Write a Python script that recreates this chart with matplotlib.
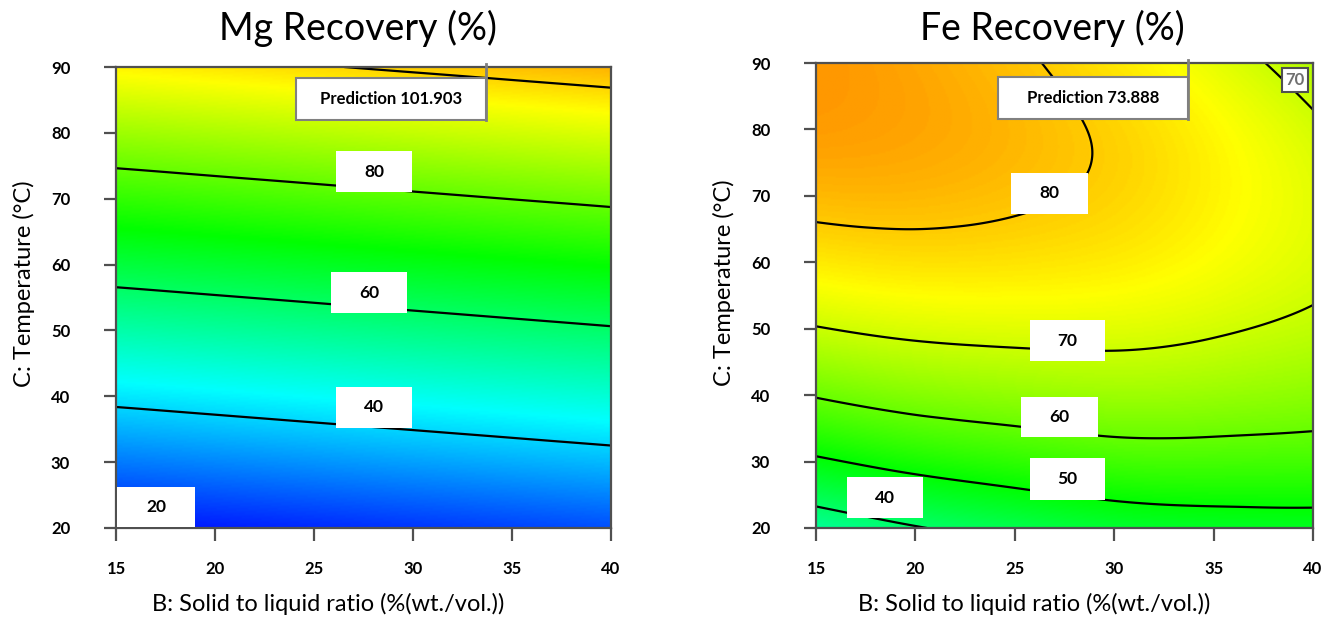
import matplotlib
matplotlib.use("Agg")
import matplotlib.pyplot as plt
import matplotlib.tri as mtri
from matplotlib.colors import LinearSegmentedColormap
from matplotlib.patches import Rectangle
import numpy as np

plt.rcParams['font.family'] = ['Lato', 'DejaVu Sans']

# factor grid: B = solid to liquid ratio, C = temperature
ratio = np.array([15, 20, 25, 30, 35, 40])
temp = np.array([20, 30, 40, 50, 60, 70, 80, 90])

# predicted recovery (%), one row per temperature
mg_recovery = np.array([
    [19.7, 21.0, 22.3, 23.6, 24.9, 26.2],
    [30.7, 32.0, 33.3, 34.6, 35.9, 37.2],
    [41.8, 43.1, 44.4, 45.7, 47.0, 48.3],
    [52.8, 54.1, 55.4, 56.7, 58.0, 59.3],
    [63.8, 65.1, 66.4, 67.7, 69.0, 70.3],
    [74.9, 76.2, 77.5, 78.8, 80.1, 81.4],
    [85.9, 87.2, 88.5, 89.8, 91.1, 92.4],
    [97.0, 98.3, 99.6, 100.9, 102.2, 103.5],
])
fe_recovery = np.array([
    [35.4, 39.6, 42.6, 45.3, 46.5, 47.0],
    [49.0, 52.3, 54.5, 56.4, 56.7, 56.4],
    [60.4, 62.9, 64.3, 65.3, 64.8, 63.6],
    [69.7, 71.4, 72.0, 72.0, 70.7, 68.7],
    [76.8, 77.7, 77.5, 76.6, 74.5, 71.6],
    [81.7, 81.8, 80.8, 79.0, 76.0, 72.3],
    [84.5, 83.7, 81.9, 79.2, 75.5, 70.9],
    [85.1, 83.5, 80.9, 77.3, 72.7, 67.3],
])

mg_levels = [20, 40, 60, 80, 100]
fe_levels = [40, 50, 60, 70, 80]

# flag point (B, C, predicted value)
mg_flag = (33.7, 90, 101.903)
fe_flag = (33.7, 90, 73.888)

cmap = LinearSegmentedColormap.from_list(
    'rsm', ['#0000ff', '#00ffff', '#00ff00', '#ffff00', '#ff0000'])

frame_col = '#505050'


def surface(ax, z, vmin, vmax, levels):
    gx, gy = np.meshgrid(ratio, temp)
    tri = mtri.Triangulation(gx.ravel(), gy.ravel())
    interp = mtri.CubicTriInterpolator(tri, z.ravel(), kind='min_E')
    fx, fy = np.meshgrid(np.linspace(15, 40, 300), np.linspace(20, 90, 300))
    fz = np.asarray(interp(fx, fy))
    ax.imshow(fz, extent=(15, 40, 20, 90), origin='lower', aspect='auto',
              cmap=cmap, vmin=vmin, vmax=vmax, interpolation='bilinear')
    ax.contour(fx, fy, fz, levels=levels, colors='black', linewidths=1.6)


def box(ax, text, x0, y0, w, h, edge=None, color='black', size=12.5):
    ax.add_patch(Rectangle((x0, y0), w, h, facecolor='white',
                           edgecolor=edge if edge else 'none',
                           linewidth=1.5, zorder=5))
    ax.text(x0 + w / 2, y0 + h / 2, text, ha='center', va='center',
            fontsize=size, fontweight='bold', color=color, zorder=6)


def flag(ax, pt, x0, y0, h):
    x, y, val = pt
    w = x - x0
    box(ax, 'Prediction %.3f' % val, x0, y0, w, h, edge='#808080', size=12)
    ax.plot([x, x], [y + 0.5, y0], color='#808080', lw=2,
            clip_on=False, zorder=7)


def style(ax):
    ax.set_xlim(15, 40)
    ax.set_ylim(20, 90)
    ax.set_xticks(ratio)
    ax.set_yticks(temp)
    for s in ax.spines.values():
        s.set_color(frame_col)
        s.set_linewidth(1.6)
    ax.tick_params(axis='both', direction='out', length=9, width=1.6,
                   color=frame_col, labelsize=12)
    ax.tick_params(axis='y', pad=24)
    ax.tick_params(axis='x', pad=15)
    for lb in ax.get_xticklabels() + ax.get_yticklabels():
        lb.set_fontweight('bold')


fig = plt.figure(figsize=(13.38, 6.2), dpi=100)
ax1 = fig.add_axes([116 / 1338, 92 / 620, 495 / 1338, 461 / 620])
ax2 = fig.add_axes([816 / 1338, 92 / 620, 497 / 1338, 465 / 620])

# Mg panel
surface(ax1, mg_recovery, 18, 122, mg_levels)
box(ax1, '80', 26.1, 71.0, 3.85, 6.2)
box(ax1, '60', 25.85, 52.6, 3.85, 6.3)
box(ax1, '40', 26.1, 35.2, 3.85, 6.2)
box(ax1, '20', 15.05, 20.1, 3.95, 6.1)
flag(ax1, mg_flag, 24.1, 81.95, 6.35)
style(ax1)

# Fe panel
surface(ax2, fe_recovery, 0, 100, fe_levels)
box(ax2, '80', 24.83, 67.27, 3.83, 6.17)
box(ax2, '70', 25.74, 45.14, 3.78, 6.17)
box(ax2, '60', 25.33, 33.7, 3.83, 6.02)
box(ax2, '50', 25.74, 24.2, 3.78, 6.33)
box(ax2, '40', 16.56, 21.5, 3.83, 6.18)
box(ax2, '70', 38.44, 85.63, 1.31, 3.62, edge=frame_col, color='#707070',
    size=12)
flag(ax2, fe_flag, 24.17, 81.57, 6.32)
style(ax2)

# titles and axis labels
fig.text(358 / 1338, 1 - 28 / 620, 'Mg Recovery (%)', ha='center',
         va='center', fontsize=27)
fig.text(1052 / 1338, 1 - 28 / 620, 'Fe Recovery (%)', ha='center',
         va='center', fontsize=27)
for cx in (328, 1034):
    fig.text(cx / 1338, 1 - 604 / 620, 'B: Solid to liquid ratio (%(wt./vol.))',
             ha='center', va='center', fontsize=17)
for cx, cy in ((24, 284), (724, 283)):
    fig.text(cx / 1338, 1 - cy / 620, 'C: Temperature (°C)', rotation=90,
             ha='center', va='center', fontsize=17)

fig.savefig('out.png', dpi=100)
